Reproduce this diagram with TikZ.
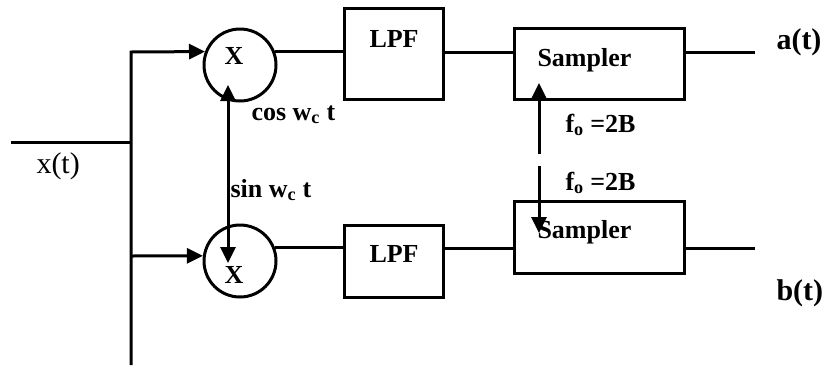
\documentclass[tikz,border=0pt]{standalone}
\usepackage{fontspec}
\setmainfont{Liberation Serif}
\usetikzlibrary{arrows.meta, positioning}

\begin{document}
\begin{tikzpicture}[
    x=1pt, y=1pt,
    >={Triangle[length=16pt,width=15pt]},
    line width=3pt,
    block/.style={
        draw,
        rectangle,
        minimum width=99pt
    },
    mixer/.style={
        draw,
        circle,
        minimum size=72pt
    },
    lbl/.style={
        font=\bfseries\fontsize{26}{30}\selectfont,
        inner sep=0pt,
        anchor=base west
    },
    sig/.style={
        font=\bfseries\fontsize{30}{34}\selectfont,
        inner sep=0pt,
        anchor=base west
    },
    arrow/.style={->}
]

\useasboundingbox (0,0) rectangle (824,-365);

\node[mixer] (mixA) at (240,-65) {};
\node[mixer] (mixB) at (240,-261) {};
\node[block, minimum height=91pt] (lpfA) at (394,-54) {};
\node[block, minimum height=72pt] (lpfB) at (394,-261) {};
\node[block, minimum width=170pt, minimum height=71pt] (smpA) at (599,-64) {};
\node[block, minimum width=170pt, minimum height=72pt] (smpB) at (599,-237) {};

\node[lbl] (mixAtxt) at (223,-64) {X};
\node[lbl] (mixBtxt) at (223,-283) {X};
\node[lbl] (lpfAtxt) at (368,-47) {LPF};
\node[lbl] (lpfBtxt) at (368,-262) {LPF};
\node[lbl] (smpAtxt) at (536,-66) {Sampler};
\node[lbl] (smpBtxt) at (536,-238) {Sampler};
\node[lbl] (cosTxt) at (250,-120) {cos w\textsubscript{c} t};
\node[lbl] (sinTxt) at (229,-197) {sin w\textsubscript{c} t};
\node[lbl] (clkAtxt) at (564,-132) {f\textsubscript{o} =2B};
\node[lbl] (clkBtxt) at (564,-190) {f\textsubscript{o} =2B};
\node[sig] (aTxt) at (775,-49) {a(t)};
\node[sig] (bTxt) at (775,-300) {b(t)};
\node[font=\fontsize{30}{34}\selectfont, inner sep=0pt, anchor=base west] (xTxt) at (35,-173) {x(t)};

\coordinate (xin) at (11,-142);
\coordinate (busTop) at (131,-52);
\coordinate (busLow) at (131,-256);
\coordinate (busEnd) at (131,-365);
\coordinate (outA) at (755,-52);
\coordinate (outB) at (755,-248);
\coordinate (clkA) at (539,-154);
\coordinate (clkB) at (539,-166);
\coordinate (tipA) at (539,-83);
\coordinate (tipB) at (539,-233);
\coordinate (cosTip) at (228,-85);
\coordinate (sinTip) at (228,-263);

\draw (xin) -- (xin -| busTop);
\draw[arrow] (busEnd) -- (busTop) -- (mixA.159);
\draw[arrow] (busLow) -- (mixB.172);
\draw (mixA.21) -- (mixA.21 -| lpfA.west);
\draw (mixB.21) -- (mixB.21 -| lpfB.west);
\draw (lpfA.east |- outA) -- (smpA.west |- outA);
\draw (lpfB.east |- outB) -- (smpB.west |- outB);
\draw (smpA.east |- outA) -- (outA);
\draw (smpB.east |- outB) -- (outB);
\draw[arrow] (clkA) -- (tipA);
\draw[arrow] (clkB) -- (tipB);
\draw[<->] (cosTip) -- (sinTip);

\end{tikzpicture}
\end{document}
